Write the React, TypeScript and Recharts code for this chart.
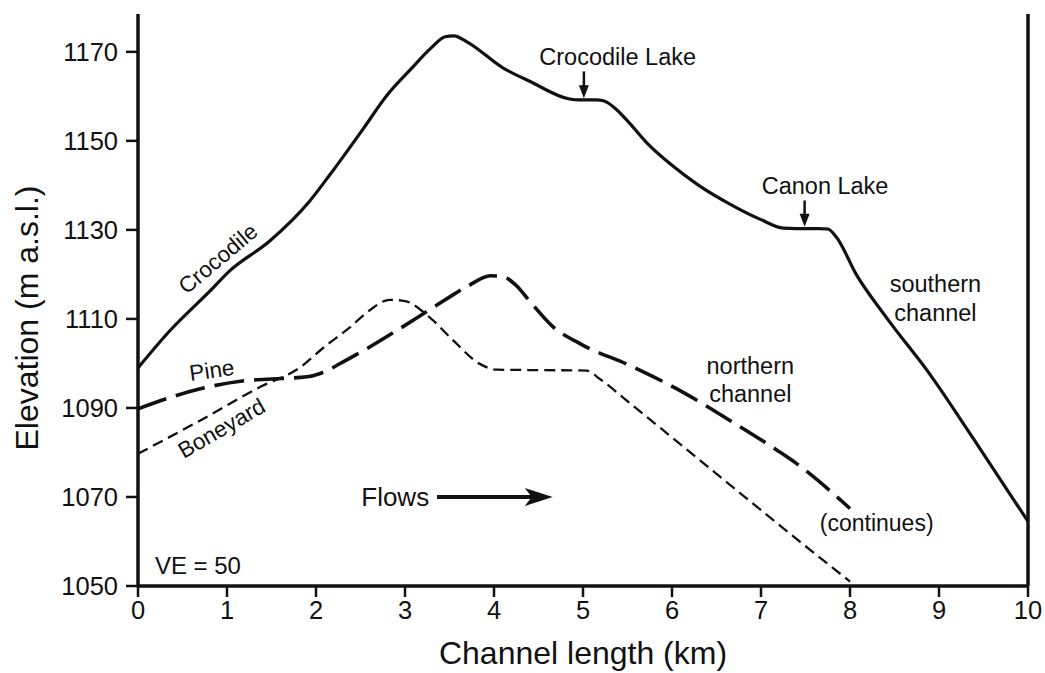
import React from 'react';
import { LineChart, Line, XAxis, YAxis, ReferenceLine, ReferenceDot } from 'recharts';

// channel profiles (km along channel, m a.s.l.)
const crocodileKm = [0, 0.36, 0.81, 1.03, 1.48, 1.93, 2.16, 2.53, 2.8, 3.06, 3.3, 3.45, 3.55, 3.7, 4.1, 4.4, 4.85, 4.95, 5.15, 5.23, 5.35, 5.5, 5.72, 6.0, 6.3, 6.65, 7.0, 7.25, 7.4, 7.65, 7.75, 7.85, 8.07, 8.41, 8.9, 9.39, 10];
const crocodileElev = [1099, 1107.4, 1116.3, 1120.8, 1127.5, 1136.5, 1142.5, 1152.7, 1160.3, 1166, 1171, 1173.4, 1173.6, 1172.2, 1166.4, 1163.4, 1159.4, 1159.2, 1159.2, 1159, 1157.5, 1154.5, 1149.5, 1144.5, 1140, 1135.8, 1132.3, 1130.4, 1130.3, 1130.3, 1130.2, 1128.3, 1120, 1110.3, 1097.5, 1083, 1064.5];

const pineKm = [0, 0.7, 1.15, 1.6, 1.9, 2.04, 2.3, 2.57, 2.9, 3.32, 3.7, 3.96, 4.1, 4.25, 4.4, 4.67, 4.97, 5.53, 6.09, 6.65, 7.18, 7.4, 8.0];
const pineElev = [1089.8, 1094.3, 1096, 1096.6, 1097, 1097.7, 1100.3, 1103.3, 1107.3, 1112.6, 1117.3, 1119.7, 1119.5, 1117.5, 1114, 1108.1, 1104.4, 1099.5, 1093.9, 1087.2, 1080.5, 1077.5, 1067.4];

const boneyardKm = [0, 0.7, 1.37, 1.82, 2.1, 2.38, 2.6, 2.83, 3.0, 3.28, 3.55, 3.84, 4.03, 4.5, 5.04, 5.19, 5.5, 5.87, 6.61, 7.36, 8.0];
const boneyardElev = [1079.7, 1087.2, 1094.7, 1099.1, 1103.8, 1108.1, 1111.9, 1114.3, 1114, 1110.3, 1105, 1099.9, 1098.6, 1098.5, 1098.4, 1096.5, 1091.5, 1085.5, 1073.4, 1061.2, 1051];

const xTicks = [0, 1, 2, 3, 4, 5, 6, 7, 8, 9, 10];
const yTicks = [1050, 1070, 1090, 1110, 1130, 1150, 1170];

const zip = (km: number[], elev: number[]) => km.map((k, i) => ({ km: k, elev: elev[i] }));
const crocodile = zip(crocodileKm, crocodileElev);
const pine = zip(pineKm, pineElev);
const boneyard = zip(boneyardKm, boneyardElev);

const FONT = '"Liberation Sans", Arial, Helvetica, sans-serif';

// text placed at a data point
const Note = (text: string, size: number, angle = 0, anchor: 'start' | 'middle' = 'middle') => (props: any) => {
  const { cx, cy } = props;
  return (
    <text
      x={cx}
      y={cy}
      fontSize={size}
      fontFamily={FONT}
      fill="#111"
      textAnchor={anchor}
      dominantBaseline="central"
      transform={angle ? `rotate(${angle} ${cx} ${cy})` : undefined}
    >
      {text}
    </text>
  );
};

// small downward arrowhead, tip at the point
const DownHead = (props: any) => {
  const { cx, cy } = props;
  return <path d={`M${cx - 5},${cy - 13} L${cx + 5},${cy - 13} L${cx},${cy} Z`} fill="#111" />;
};

// right pointing arrowhead, tip at the point
const RightHead = (props: any) => {
  const { cx, cy } = props;
  return <path d={`M${cx},${cy} L${cx - 28},${cy - 9} L${cx - 21},${cy} L${cx - 28},${cy + 9} Z`} fill="#111" />;
};

const YTitle = (props: any) => {
  const vb = props.viewBox;
  const x = vb.x + 27;
  const y = vb.y + vb.height / 2 + 18;
  return (
    <text x={x} y={y} transform={`rotate(-90 ${x} ${y})`} textAnchor="middle" dominantBaseline="central" fontSize={32} fontFamily={FONT} fill="#111">
      Elevation (m a.s.l.)
    </text>
  );
};

const XTitle = (props: any) => {
  const vb = props.viewBox;
  return (
    <text x={vb.x + vb.width / 2} y={vb.y + 78} textAnchor="middle" fontSize={32} fontFamily={FONT} fill="#111">
      Channel length (km)
    </text>
  );
};

export default function App() {
  const tickStyle = { fontSize: 25.5, fill: '#111', fontFamily: FONT };
  return (
    <div style={{ position: 'absolute', left: 0, top: 0, background: '#fff' }}>
      <LineChart width={1045} height={673} margin={{ top: 14, right: 17, bottom: 0, left: 0 }}>
        <XAxis
          type="number"
          dataKey="km"
          domain={[0, 10]}
          ticks={xTicks}
          interval={0}
          height={87}
          tickSize={11}
          tickMargin={4}
          tick={tickStyle}
          axisLine={{ stroke: '#111', strokeWidth: 3.5 }}
          tickLine={{ stroke: '#111', strokeWidth: 2.5 }}
          label={<XTitle />}
        />
        <YAxis
          type="number"
          domain={[1050, 1178.5]}
          ticks={yTicks}
          interval={0}
          allowDataOverflow
          width={138}
          tickSize={12}
          tickMargin={8}
          tick={tickStyle}
          axisLine={{ stroke: '#111', strokeWidth: 3.5 }}
          tickLine={{ stroke: '#111', strokeWidth: 2.5 }}
          label={<YTitle />}
        />
        <ReferenceLine x={10} stroke="#111" strokeWidth={3.5} />

        <Line data={boneyard} dataKey="elev" type="monotone" stroke="#111" strokeWidth={2.3} strokeDasharray="11 6" dot={false} activeDot={false} isAnimationActive={false} />
        <Line data={pine} dataKey="elev" type="monotone" stroke="#111" strokeWidth={3.6} strokeDasharray="30 10" dot={false} activeDot={false} isAnimationActive={false} />
        <Line data={crocodile} dataKey="elev" type="monotone" stroke="#111" strokeWidth={3.2} dot={false} activeDot={false} isAnimationActive={false} />

        {/* lake arrows */}
        <ReferenceLine segment={[{ x: 5.01, y: 1165.6 }, { x: 5.01, y: 1162 }]} stroke="#111" strokeWidth={2.5} />
        <ReferenceDot x={5.01} y={1159.6} shape={DownHead} />
        <ReferenceLine segment={[{ x: 7.49, y: 1136.6 }, { x: 7.49, y: 1133 }]} stroke="#111" strokeWidth={2.5} />
        <ReferenceDot x={7.49} y={1130.7} shape={DownHead} />

        {/* flow arrow */}
        <ReferenceLine segment={[{ x: 3.36, y: 1070 }, { x: 4.5, y: 1070 }]} stroke="#111" strokeWidth={4} />
        <ReferenceDot x={4.66} y={1070} shape={RightHead} />

        <ReferenceDot x={0.9} y={1123.5} shape={Note('Crocodile', 22.5, -40)} />
        <ReferenceDot x={0.83} y={1098.4} shape={Note('Pine', 22.5, -8)} />
        <ReferenceDot x={0.94} y={1085.4} shape={Note('Boneyard', 22.5, -30)} />
        <ReferenceDot x={5.39} y={1168.8} shape={Note('Crocodile Lake', 23.5)} />
        <ReferenceDot x={7.72} y={1139.9} shape={Note('Canon Lake', 23.5)} />
        <ReferenceDot x={8.96} y={1117.9} shape={Note('southern', 23.5)} />
        <ReferenceDot x={8.96} y={1111.4} shape={Note('channel', 23.5)} />
        <ReferenceDot x={6.88} y={1099.5} shape={Note('northern', 23.5)} />
        <ReferenceDot x={6.88} y={1093.2} shape={Note('channel', 23.5)} />
        <ReferenceDot x={8.3} y={1064.1} shape={Note('(continues)', 23)} />
        <ReferenceDot x={2.89} y={1070} shape={Note('Flows', 26)} />
        <ReferenceDot x={0.19} y={1054.7} shape={Note('VE = 50', 24, 0, 'start')} />
      </LineChart>
    </div>
  );
}
